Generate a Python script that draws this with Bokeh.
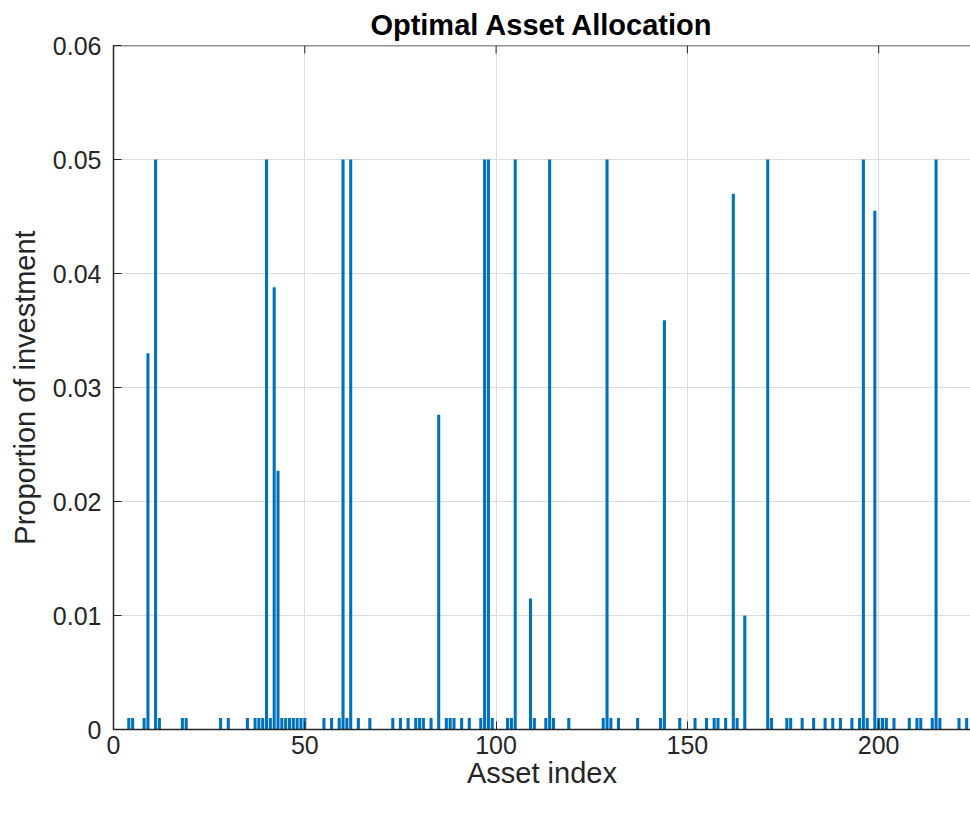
from bokeh.plotting import figure
from bokeh.models import ColumnDataSource, FixedTicker, CustomJSTickFormatter, Range1d, Span
from bokeh.embed import file_html
from bokeh.resources import INLINE

asset_index = [4, 5, 8, 9, 11, 12, 18, 19, 28, 30, 35, 37, 38, 39, 40, 41, 42, 43, 44, 45,
               46, 47, 48, 49, 50, 55, 57, 59, 60, 61, 62, 64, 67, 73, 75, 77, 79, 80, 81, 83,
               85, 87, 88, 89, 91, 93, 96, 97, 98, 99, 103, 104, 105, 109, 110, 113, 114, 115, 119, 128,
               129, 130, 132, 137, 143, 144, 148, 152, 155, 157, 158, 160, 162, 163, 165, 171, 172, 176, 177, 180,
               183, 186, 188, 190, 193, 195, 196, 197, 199, 200, 201, 202, 204, 208, 210, 211, 214, 215, 216, 221,
               223]
proportion = [0.001, 0.001, 0.001, 0.033, 0.05, 0.001, 0.001, 0.001, 0.001, 0.001, 0.001, 0.001, 0.001, 0.001, 0.05, 0.001, 0.0388, 0.0227, 0.001, 0.001,
              0.001, 0.001, 0.001, 0.001, 0.001, 0.001, 0.001, 0.001, 0.05, 0.001, 0.05, 0.001, 0.001, 0.001, 0.001, 0.001, 0.001, 0.001, 0.001, 0.001,
              0.0276, 0.001, 0.001, 0.001, 0.001, 0.001, 0.001, 0.05, 0.05, 0.001, 0.001, 0.001, 0.05, 0.0115, 0.001, 0.001, 0.05, 0.001, 0.001, 0.001,
              0.05, 0.001, 0.001, 0.001, 0.001, 0.0359, 0.001, 0.001, 0.001, 0.001, 0.001, 0.001, 0.047, 0.001, 0.0100, 0.05, 0.001, 0.001, 0.001, 0.001,
              0.001, 0.001, 0.001, 0.001, 0.001, 0.001, 0.05, 0.001, 0.0455, 0.001, 0.001, 0.001, 0.001, 0.001, 0.001, 0.001, 0.001, 0.05, 0.001, 0.001,
              0.001]

x_ticks = [0, 50, 100, 150, 200]
y_ticks = [0, 0.01, 0.02, 0.03, 0.04, 0.05, 0.06]
x_max = 224
y_max = 0.06

FONT = "Liberation Sans"
TXT = "#262626"

src = ColumnDataSource(dict(x=asset_index, top=proportion))

p = figure(width=970, height=805, output_backend="svg", toolbar_location=None,
           x_range=Range1d(0, x_max), y_range=Range1d(0, y_max),
           min_border_left=113, min_border_right=0, min_border_top=45, min_border_bottom=76,
           title="Optimal Asset Allocation")
p.outline_line_color = None
p.background_fill_color = "white"
p.border_fill_color = "white"

p.title.align = "center"
p.title.text_font = FONT
p.title.text_font_size = "29px"
p.title.text_font_style = "bold"
p.title.text_color = "black"
p.title.offset = 4
p.title.standoff = 10

p.xgrid.ticker = FixedTicker(ticks=x_ticks)
p.ygrid.ticker = FixedTicker(ticks=y_ticks)
p.grid.grid_line_color = "#dcdcdc"
p.grid.grid_line_width = 1

p.vbar(x="x", top="top", width=0.8, source=src, fill_color="#0072BD", line_color=None)

# box top edge with inward tick marks
p.add_layout(Span(location=y_max, dimension="width", line_color=TXT, line_width=1.5))
tick_len = y_max * 8 / 684
p.segment(x0=x_ticks, x1=x_ticks, y0=[y_max] * len(x_ticks), y1=[y_max - tick_len] * len(x_ticks),
          line_color=TXT, line_width=1)

for ax in (p.xaxis[0], p.yaxis[0]):
    ax.axis_line_color = TXT
    ax.axis_line_width = 1.5
    ax.major_tick_line_color = TXT
    ax.major_tick_in = 8
    ax.major_tick_out = 0
    ax.minor_tick_line_color = None
    ax.major_label_text_font = FONT
    ax.major_label_text_font_size = "25px"
    ax.major_label_text_color = TXT
    ax.axis_label_text_font = FONT
    ax.axis_label_text_font_size = "29px"
    ax.axis_label_text_font_style = "normal"
    ax.axis_label_text_color = TXT

p.xaxis[0].ticker = FixedTicker(ticks=x_ticks)
p.yaxis[0].ticker = FixedTicker(ticks=y_ticks)
p.yaxis[0].formatter = CustomJSTickFormatter(code="return tick == 0 ? '0' : tick.toFixed(2);")
p.xaxis[0].axis_label = "Asset index"
p.yaxis[0].axis_label = "Proportion of investment"
p.xaxis[0].major_label_standoff = 6
p.yaxis[0].major_label_standoff = 12
p.xaxis[0].axis_label_standoff = 0
p.yaxis[0].axis_label_standoff = 9

open("out.html", "w").write(file_html(p, INLINE))
